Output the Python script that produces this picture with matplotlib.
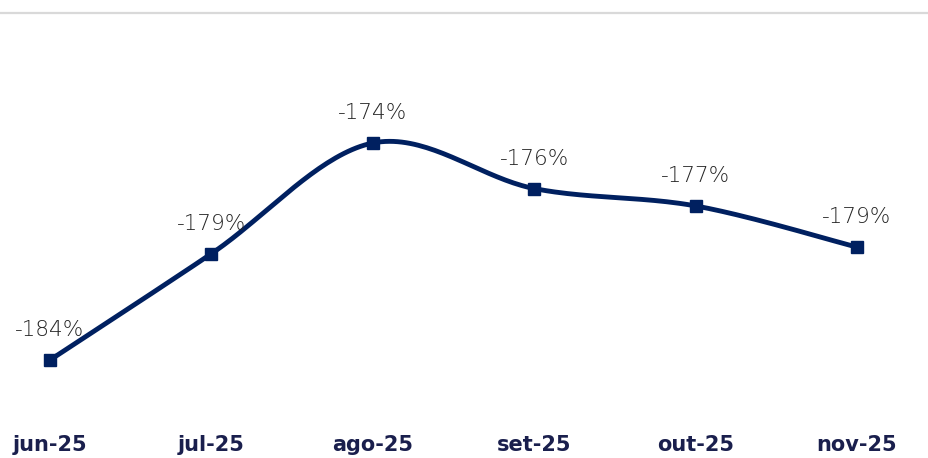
import numpy as np
import matplotlib.pyplot as plt
from matplotlib.lines import Line2D

months = ['jun-25', 'jul-25', 'ago-25', 'set-25', 'out-25', 'nov-25']
values = [-184.0, -179.1, -174.0, -176.1, -176.9, -178.8]

navy = '#002060'


def smooth(x, y, n=40):
    # excel-like smoothed line: bezier segments through the points
    x = np.asarray(x, float)
    y = np.asarray(y, float)
    px = np.concatenate([[x[0]], x, [x[-1]]])
    py = np.concatenate([[y[0]], y, [y[-1]]])
    xs, ys = [], []
    t = np.linspace(0, 1, n)[:, None]
    for i in range(len(x) - 1):
        p0 = np.array([px[i + 1], py[i + 1]])
        p3 = np.array([px[i + 2], py[i + 2]])
        c1 = p0 + (p3 - np.array([px[i], py[i]])) / 6
        c2 = p3 - (np.array([px[i + 3], py[i + 3]]) - p0) / 6
        b = ((1 - t) ** 3) * p0 + 3 * ((1 - t) ** 2) * t * c1 \
            + 3 * (1 - t) * t ** 2 * c2 + t ** 3 * p3
        xs.append(b[:, 0])
        ys.append(b[:, 1])
    return np.concatenate(xs), np.concatenate(ys)


fig = plt.figure(figsize=(9.29, 4.58), dpi=100)
ax = fig.add_axes([0, 0.083, 1, 0.917])

xi = np.arange(len(months))
sx, sy = smooth(xi, values)
ax.plot(sx, sy, color=navy, lw=3.5, solid_capstyle='round', zorder=2)
ax.plot(xi, values, ls='none', marker='s', ms=8.5, color=navy, zorder=3)

for x, v in zip(xi, values):
    ax.annotate(f'{v:.0f}%', (x, v), xytext=(0, 21.5), textcoords='offset points',
                ha='center', va='center', fontsize=15.5, color='#262626',
                fontweight='light')

ax.set_xlim(-0.31, 5.446)
ax.set_ylim(-184 - 60 / 21.7, -174 + 143 / 21.7)
ax.set_xticks(xi, months)
ax.tick_params(axis='x', length=0, pad=11, labelsize=15, labelcolor='#1a1f4d')
for lab in ax.get_xticklabels():
    lab.set_fontweight('bold')
ax.set_yticks([])
for s in ax.spines.values():
    s.set_visible(False)

fig.add_artist(Line2D([0, 1], [1 - 12.5 / 458] * 2, color='#d9d9d9', lw=1.6))

fig.savefig('out.png', dpi=100)
